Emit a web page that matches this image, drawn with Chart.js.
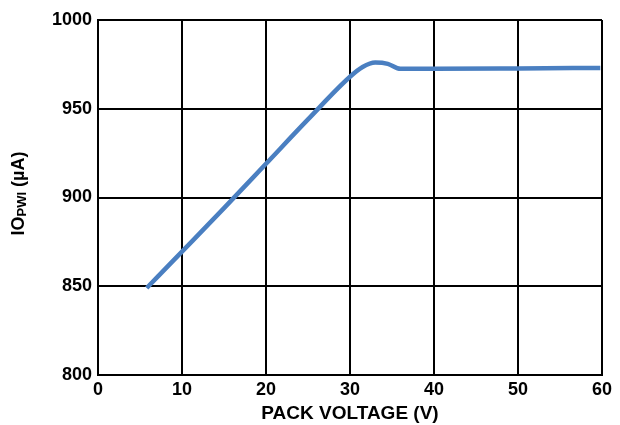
<!DOCTYPE html>
<html>
<head>
<meta charset="utf-8">
<script src="https://cdn.jsdelivr.net/npm/chart.js@4"></script>
<style>
  html, body { margin: 0; padding: 0; background: #fff; }
  #wrap { width: 620px; height: 425px; }
</style>
</head>
<body>
<div id="wrap"><canvas id="grafico" width="620" height="425"></canvas></div>
<script>
// datos
const voltaje = [5.8, 10, 15, 20, 25, 30, 31.5, 33, 34.5, 36, 40, 50, 59.8];
const corriente = [849, 869.5, 894, 919, 944, 968, 973.5, 976, 975.3, 972.5, 972.5, 972.7, 973];
const xTicks = [0, 10, 20, 30, 40, 50, 60];
const yTicks = [800, 850, 900, 950, 1000];

const puntos = voltaje.map((v, i) => ({ x: v, y: corriente[i] }));

// etiqueta del eje Y con subindice
const etiquetaY = {
  id: 'etiquetaY',
  afterDraw(chart) {
    const c = chart.ctx;
    const area = chart.chartArea;
    c.save();
    c.translate(19, (area.top + area.bottom) / 2 - 4);
    c.rotate(-Math.PI / 2);
    c.fillStyle = '#000';
    c.textBaseline = 'middle';
    const big = 'bold 18px "Liberation Sans", Arial, sans-serif';
    const small = 'bold 13px "Liberation Sans", Arial, sans-serif';
    const partes = [['IO', big, 0], ['PWI', small, 3], [' (µA)', big, 0]];
    let total = 0;
    partes.forEach(p => { c.font = p[1]; total += c.measureText(p[0]).width; });
    let x = -total / 2;
    partes.forEach(p => {
      c.font = p[1];
      c.fillText(p[0], x, p[2]);
      x += c.measureText(p[0]).width;
    });
    c.restore();
  }
};

const ctx = document.getElementById('grafico').getContext('2d');

new Chart(ctx, {
  type: 'scatter',
  data: {
    datasets: [{
      data: puntos,
      showLine: true,
      borderColor: '#4a7fc1',
      borderWidth: 4.5,
      pointRadius: 0,
      cubicInterpolationMode: 'monotone',
      borderCapStyle: 'butt'
    }]
  },
  options: {
    responsive: false,
    animation: false,
    layout: { padding: { left: 0, right: 18, top: 20, bottom: 0 } },
    plugins: { legend: { display: false }, tooltip: { enabled: false } },
    scales: {
      x: {
        type: 'linear',
        min: 0, max: 60,
        afterBuildTicks: s => { s.ticks = xTicks.map(v => ({ value: v })); },
        afterFit: s => { s.height = 50; },
        grid: { color: '#000', lineWidth: 2, drawTicks: false },
        border: { color: '#000', width: 2 },
        ticks: {
          color: '#000', padding: 4,
          callback: v => String(v),
          font: { family: '"Liberation Sans", Arial', size: 18, weight: 'bold' }
        },
        title: {
          display: true, text: 'PACK VOLTAGE (V)', color: '#000',
          padding: { top: 1, bottom: 0 },
          font: { family: '"Liberation Sans", Arial', size: 19, weight: 'bold' }
        }
      },
      y: {
        min: 800, max: 1000,
        afterBuildTicks: s => { s.ticks = yTicks.map(v => ({ value: v })); },
        afterFit: s => { s.width = 98; },
        grid: { color: '#000', lineWidth: 2, drawTicks: false },
        border: { color: '#000', width: 2 },
        ticks: {
          color: '#000', padding: 6,
          callback: v => String(v),
          font: { family: '"Liberation Sans", Arial', size: 18, weight: 'bold' }
        }
      }
    }
  },
  plugins: [etiquetaY]
});
</script>
</body>
</html>
